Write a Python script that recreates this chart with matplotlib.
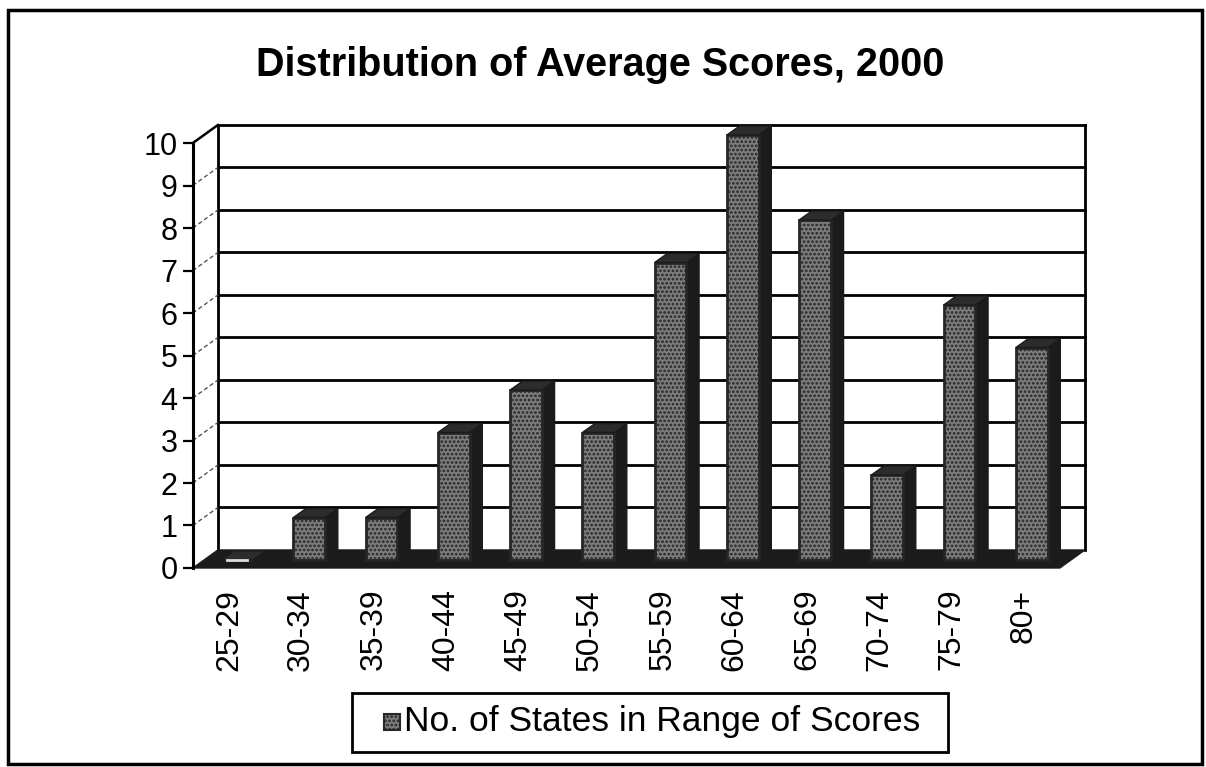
import matplotlib
matplotlib.use('Agg')
import matplotlib.pyplot as plt
from matplotlib.patches import Polygon, Rectangle

plt.rcParams['font.family'] = ['Liberation Sans', 'DejaVu Sans']
plt.rcParams['hatch.linewidth'] = 1.3

categories = ['25-29', '30-34', '35-39', '40-44', '45-49', '50-54',
              '55-59', '60-64', '65-69', '70-74', '75-79', '80+']
states = [0, 1, 1, 3, 4, 3, 7, 10, 8, 2, 6, 5]
y_ticks = list(range(0, 11))

title = 'Distribution of Average Scores, 2000'
series_name = 'No. of States in Range of Scores'

# pseudo-3D offsets, in data units (x: categories, y: counts)
wall_dx, wall_dy = 0.346, 0.424   # front plane -> back wall
face_dx, face_dy = 0.111, 0.188   # front plane -> bar front faces
bar_dx, bar_dy = 0.175, 0.212     # bar depth
bar_w = 0.44

face_col = '#7c7c7c'
dark = '#1b1b1b'

W, H = 1206, 767
fig = plt.figure(figsize=(W / 100, H / 100), dpi=100)
ax = fig.add_axes([140 / W, 167 / H, 970 / W, 500 / H])
ax.set_xlim(-1.232, 12.194)
ax.set_ylim(-0.753, 11.012)
ax.patch.set_visible(False)

n = len(categories)
x_lo, x_hi = -0.5, n - 0.5

# back wall
for v in y_ticks[1:]:
    ax.plot([x_lo + wall_dx, x_hi + wall_dx], [v + wall_dy] * 2,
            color='black', lw=2, zorder=1)
for xe in (x_lo + wall_dx, x_hi + wall_dx):
    ax.plot([xe, xe], [wall_dy, y_ticks[-1] + wall_dy], color='black', lw=2, zorder=1)

# side wall diagonals
for v in y_ticks[1:-1]:
    ax.plot([x_lo, x_lo + wall_dx], [v, v + wall_dy], color='#555555',
            lw=1, ls=(0, (3, 2)), zorder=1)
ax.plot([x_lo, x_lo + wall_dx], [y_ticks[-1], y_ticks[-1] + wall_dy],
        color='black', lw=1.8, zorder=1)

# floor
ax.add_patch(Polygon([(x_lo, 0), (x_hi, 0), (x_hi + wall_dx, wall_dy),
                      (x_lo + wall_dx, wall_dy)], closed=True,
                     facecolor=dark, edgecolor=dark, lw=1, zorder=2))

# bars: front face, right side and top cap
xs = [i - bar_w / 2 + face_dx for i in range(n)]
bars = ax.bar(xs, states, width=bar_w, bottom=face_dy, align='edge',
              color=face_col, edgecolor='#262626', lw=2, hatch='....',
              zorder=4, label=series_name)
for x0, v in zip(xs, states):
    y0 = face_dy
    x1 = x0 + bar_w
    ax.add_patch(Polygon([(x1, y0), (x1 + bar_dx, y0 + bar_dy),
                          (x1 + bar_dx, y0 + v + bar_dy), (x1, y0 + v)],
                         closed=True, facecolor=dark, edgecolor=dark, lw=1, zorder=3))
    ax.add_patch(Polygon([(x0, y0 + v), (x1, y0 + v),
                          (x1 + bar_dx, y0 + v + bar_dy), (x0 + bar_dx, y0 + v + bar_dy)],
                         closed=True, facecolor='#2c2c2c', edgecolor=dark, lw=1, zorder=5))
    if v == 0:
        ax.plot([x0 + 0.08, x1 - 0.08], [y0, y0], color='#dddddd', lw=2, zorder=6)

# value axis on the front plane
for side in ('top', 'right'):
    ax.spines[side].set_visible(False)
ax.spines['left'].set_position(('data', x_lo))
ax.spines['left'].set_bounds(0, y_ticks[-1])
ax.spines['left'].set_linewidth(2.2)
ax.spines['left'].set_zorder(6)
ax.set_yticks(y_ticks)
ax.tick_params(axis='y', length=7, width=1.6, pad=4, labelsize=22)

ax.spines['bottom'].set_position(('data', 0))
ax.spines['bottom'].set_visible(False)
ax.set_xticks(range(n), categories, rotation=90)
ax.tick_params(axis='x', length=0, pad=15, labelsize=23)

fig.text(600 / W, 1 - 76 / H, title, ha='center', va='baseline',
         fontsize=28.5, fontweight='bold')

# legend box
fig.patches.append(Rectangle((352 / W, 1 - 752 / H), 596 / W, 59 / H,
                             transform=fig.transFigure, fill=False,
                             edgecolor='black', lw=2))
fig.patches.append(Rectangle((384 / W, 1 - 730 / H), 16 / W, 16 / H,
                             transform=fig.transFigure, facecolor=face_col,
                             edgecolor='#262626', lw=1.5, hatch='....'))
fig.text(404 / W, 1 - 722 / H, series_name, ha='left', va='center', fontsize=25.5)

# outer frame
fig.patches.append(Rectangle((8 / W, 1 - 764 / H), 1194 / W, 754 / H,
                             transform=fig.transFigure, fill=False,
                             edgecolor='black', lw=2.5))

fig.savefig('out.png', dpi=100)
